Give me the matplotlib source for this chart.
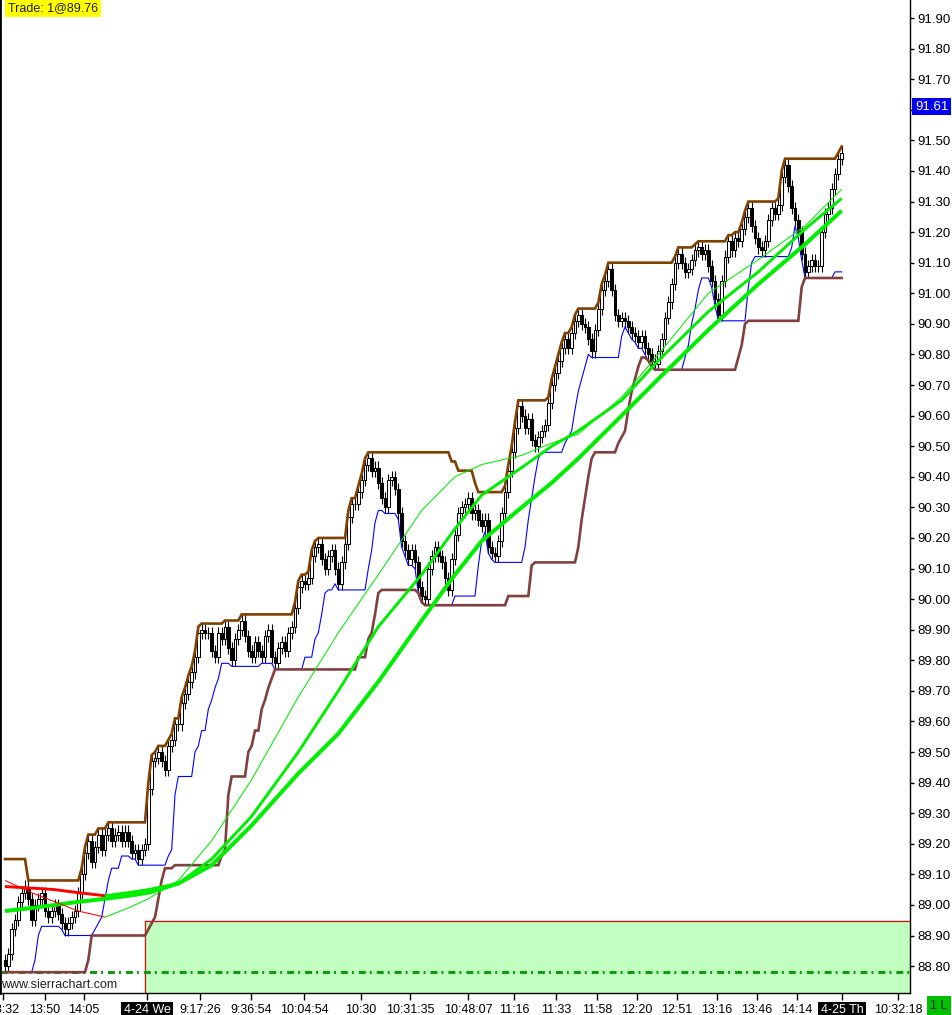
import numpy as np
import pandas as pd
import matplotlib
matplotlib.use("Agg")
import matplotlib.pyplot as plt
import matplotlib.transforms as mtransforms

# ---------------- data ----------------
# closes of the bars that precede the visible window (off-screen history)
prior_closes = [88.97, 89.00, 89.03, 89.05, 89.08, 89.10, 89.13, 89.02, 89.00, 88.98,
                89.01, 88.99, 88.97, 88.98, 88.95, 88.96, 88.93, 88.94, 88.91, 88.92,
                88.89, 88.87, 88.85, 88.82]

# closes of the visible bars
closes = [
    88.80, 88.84, 88.92, 88.95, 89.01, 89.04, 89.06, 89.02, 88.95, 89.00,
    89.02, 89.04, 88.98, 88.96, 88.98, 89.00, 88.97, 88.94, 88.92, 88.94,
    88.96, 88.98, 89.04, 89.10, 89.17, 89.21, 89.14, 89.19, 89.23, 89.18,
    89.23, 89.25, 89.21, 89.23, 89.24, 89.21, 89.24, 89.21, 89.17, 89.18,
    89.15, 89.18, 89.20, 89.38, 89.47, 89.48, 89.50, 89.47, 89.44, 89.52,
    89.54, 89.59, 89.59, 89.66, 89.69, 89.73, 89.76, 89.81, 89.89, 89.90,
    89.89, 89.89, 89.83, 89.81, 89.89, 89.87, 89.91, 89.84, 89.80, 89.87,
    89.90, 89.93,
    89.88, 89.83, 89.81, 89.86, 89.83, 89.81, 89.88, 89.90, 89.81, 89.79,
    89.84, 89.86, 89.83, 89.89, 89.91, 89.97, 90.04, 90.06, 90.05, 90.07,
    90.14, 90.17, 90.18, 90.13, 90.10, 90.14, 90.16, 90.10, 90.05, 90.12,
    90.18, 90.27, 90.31, 90.31, 90.35, 90.39, 90.44, 90.46, 90.42, 90.43,
    90.38, 90.33, 90.30, 90.39, 90.40, 90.36, 90.28, 90.19, 90.16, 90.13,
    90.16, 90.12, 90.04, 90.01, 90.00, 90.10, 90.14, 90.17, 90.14, 90.12,
    90.07, 90.03, 90.13, 90.21, 90.28, 90.30, 90.31, 90.33, 90.28, 90.29,
    90.26, 90.24, 90.26, 90.17, 90.15, 90.14, 90.19, 90.28, 90.35, 90.42,
    90.48, 90.56, 90.63, 90.60, 90.56, 90.59, 90.52, 90.50, 90.53, 90.55,
    90.57, 90.64, 90.70, 90.74, 90.78, 90.82, 90.85, 90.82, 90.87, 90.91,
    90.93, 90.90, 90.89, 90.85, 90.81, 90.88, 90.95, 91.01, 91.04, 91.08,
    91.01, 90.93, 90.91, 90.92, 90.91, 90.89, 90.87, 90.86, 90.84, 90.86,
    90.82, 90.80, 90.78, 90.77, 90.81, 90.85, 90.92, 90.97, 91.03, 91.10,
    91.13, 91.10, 91.07, 91.08, 91.11, 91.14, 91.15, 91.13, 91.14, 91.09,
    91.04, 90.98, 90.93, 91.04, 91.12, 91.17, 91.14, 91.18, 91.17, 91.21,
    91.25, 91.28, 91.22, 91.18, 91.15, 91.14, 91.17, 91.24, 91.28, 91.26,
    91.29, 91.38, 91.42, 91.35, 91.28, 91.24, 91.20, 91.13, 91.07, 91.09,
    91.11, 91.09, 91.09, 91.20, 91.26, 91.28, 91.34, 91.39, 91.44, 91.46,
]

# moving-average lines at these bar numbers
ma_bars = [0, 8, 15, 22, 30, 37, 43, 52, 62, 74, 88, 100, 112, 125, 135, 143,
           155, 164, 172, 185, 196, 211, 226, 240, 251]
ma_fast = [89.08, 89.04, 89.01, 88.98, 88.96, 88.99, 89.02, 89.08, 89.21, 89.41,
           89.68, 89.89, 90.08, 90.29, 90.40, 90.44, 90.47, 90.51, 90.54, 90.66,
           90.80, 91.00, 91.11, 91.22, 91.34]
ma_mid = [89.06, 89.055, 89.05, 89.04, 89.03, 89.04, 89.05, 89.07, 89.15, 89.29,
          89.50, 89.70, 89.91, 90.08, 90.23, 90.34, 90.43, 90.50, 90.55, 90.65,
          90.78, 90.94, 91.07, 91.21, 91.31]
ma_slow = [88.98, 88.99, 89.00, 89.01, 89.02, 89.03, 89.04, 89.07, 89.13, 89.26,
           89.43, 89.56, 89.73, 89.93, 90.08, 90.19, 90.30, 90.38, 90.46, 90.60,
           90.72, 90.88, 91.03, 91.16, 91.27]

price_ticks = [88.80, 88.90, 89.00, 89.10, 89.20, 89.30, 89.40, 89.50, 89.60, 89.70,
               89.80, 89.90, 90.00, 90.10, 90.20, 90.30, 90.40, 90.50, 90.60, 90.70,
               90.80, 90.90, 91.00, 91.10, 91.20, 91.30, 91.40, 91.50, 91.60, 91.70,
               91.80, 91.90]
time_ticks = [-0.5, 12, 23.7, 42.6, 58.5, 73.8, 89.7, 106.8, 121.5, 138.9, 152.7,
              165.3, 177.6, 189.6, 201.6, 213.6, 225.6, 237.6, 251.1, 267.9]
time_labels = ["13:32", "13:50", "14:05", "4-24 We", "9:17:26", "9:36:54", "10:04:54",
               "10:30", "10:31:35", "10:48:07", "11:16", "11:33", "11:58", "12:20",
               "12:51", "13:16", "13:46", "14:14", "4-25 Th", "10:32:18"]
date_labels = ["4-24 We", "4-25 Th"]

trade_text = "Trade: 1@89.76"
last_price = 91.61
trade_bar = 42
zone_top = 88.947
stop_level = 88.78
position_text = "1 L"
watermark = "www.sierrachart.com"

WICK = 0.02
CHANNEL_LEN = 24
STOP_LEN = 8

# ---------------- derived series ----------------
all_c = np.array(prior_closes + closes, dtype=float)
all_o = np.r_[all_c[0], all_c[:-1]]
all_h = np.maximum(all_o, all_c) + WICK
all_l = np.minimum(all_o, all_c) - WICK
n0 = len(prior_closes)

upper = pd.Series(all_h).rolling(CHANNEL_LEN, min_periods=1).max().values[n0:]
lower = pd.Series(all_l).rolling(CHANNEL_LEN, min_periods=1).min().values[n0:]
stop_line = pd.Series(all_l).rolling(STOP_LEN, min_periods=1).min().values[n0:]

o = all_o[n0:]
c = all_c[n0:]
h = all_h[n0:]
l = all_l[n0:]
idx = np.arange(len(c))

# ---------------- figure ----------------
W, H = 953, 1015
plt.rcParams['lines.scale_dashes'] = False
plt.rcParams['font.family'] = ['Liberation Sans', 'DejaVu Sans']
fig = plt.figure(figsize=(W / 100, H / 100), dpi=100)
fig.patch.set_facecolor('white')
ax = fig.add_axes([0, 22 / H, 910 / W, 993 / H])
ax.set_facecolor('white')

XMIN, XMAX = -1.5, 271.5
YMIN, YMAX = 88.712, 91.959
ax.set_xlim(XMIN, XMAX)
ax.set_ylim(YMIN, YMAX)

# trade zone
ax.fill_between([trade_bar, XMAX], YMIN, zone_top, color='#C0FFC0', lw=0, zorder=0.5)
ax.plot([trade_bar, trade_bar], [YMIN, zone_top], color='#FF0000', lw=0.9, zorder=0.8)
ax.plot([trade_bar, XMAX], [zone_top, zone_top], color='#FF0000', lw=0.9, zorder=0.8)

# stop level dash-dot
ax.axhline(stop_level, color='#119911', lw=2.2, dashes=(5, 2.9, 1.4, 3.6),
           solid_capstyle='butt', dash_capstyle='butt', zorder=1)

# candles
up = c >= o
ax.vlines(idx, l, h, color='black', lw=0.8, zorder=2)
ax.bar(idx[up], (c - o)[up], bottom=o[up], width=0.72, facecolor='white',
       edgecolor='black', lw=0.75, zorder=2.5)
ax.bar(idx[~up], (o - c)[~up], bottom=c[~up], width=0.72, facecolor='black',
       edgecolor='black', lw=0.75, zorder=2.5)

# indicators
ax.plot(idx, stop_line, color='#0000FF', lw=0.8, zorder=3)
ax.plot(idx, lower, color='#804040', lw=1.9, zorder=3.5, solid_joinstyle='miter')
ax.plot(idx, upper, color='#804000', lw=1.9, zorder=3.5, solid_joinstyle='miter')

GREEN = '#00EE00'
RED = '#FF0000'


def slope_colored(xs, ys, lw, z):
    xs = np.asarray(xs, dtype=float)
    ys = np.asarray(ys, dtype=float)
    falling = np.diff(ys) < 0
    start = 0
    n = len(falling)
    for k in range(1, n + 1):
        if k == n or falling[k] != falling[start]:
            ax.plot(xs[start:k + 1], ys[start:k + 1],
                    color=RED if falling[start] else GREEN, lw=lw,
                    solid_capstyle='butt', solid_joinstyle='round', zorder=z)
            start = k


slope_colored(ma_bars, ma_slow, 2.9, 4.0)
slope_colored(ma_bars, ma_mid, 2.1, 4.1)
slope_colored(ma_bars, ma_fast, 0.75, 4.2)

# axes styling
ax.spines['top'].set_visible(False)
ax.spines['left'].set_linewidth(2)
ax.spines['right'].set_linewidth(1)
ax.spines['bottom'].set_linewidth(1)
for s in ['left', 'right', 'bottom']:
    ax.spines[s].set_color('black')

ax.yaxis.tick_right()
ax.set_yticks(price_ticks)
# the 91.60 label sits under the last-price marker in the reference
ax.set_yticklabels(["" if abs(v - last_price) < 0.05 else f"{v:.2f}"
                    for v in price_ticks])
ax.tick_params(axis='y', direction='out', length=3, width=1, pad=2,
               labelsize=9.5, colors='black')
ax.set_xticks(time_ticks)
ax.set_xticklabels(time_labels)
ax.tick_params(axis='x', direction='out', length=5, width=1, pad=3,
               labelsize=9, colors='black')
for lab in ax.get_xticklabels():
    if lab.get_text() in date_labels:
        lab.set_color('white')
        lab.set_bbox(dict(facecolor='black', edgecolor='none',
                          boxstyle='square,pad=0.2'))

# last price marker on the axis
trans = mtransforms.blended_transform_factory(ax.transAxes, ax.transData)
ax.text(1.0055, last_price, f"{last_price:.2f}", transform=trans, ha='left',
        va='center', fontsize=9.5, color='white', clip_on=False, zorder=10,
        bbox=dict(facecolor='#0000EE', edgecolor='none',
                  boxstyle='square,pad=0.2'))

# trade label (top-left)
fig.text(8 / W, 1 - 8.5 / H, trade_text, ha='left', va='center', fontsize=9,
         color='#202020', zorder=10,
         bbox=dict(facecolor='#FFFF00', edgecolor='none',
                   boxstyle='square,pad=0.2'))

# watermark
fig.text(1 / W, 1 - 985 / H, watermark, ha='left', va='center', fontsize=9,
         color='#202020', zorder=10)

# position box bottom-right
fig.text(939 / W, 1 - 1006 / H, position_text, ha='center', va='center',
         fontsize=9, color='#202020', zorder=10,
         bbox=dict(facecolor='#00C000', edgecolor='none',
                   boxstyle='square,pad=0.3'))

fig.savefig('out.png', dpi=100, facecolor='white')
